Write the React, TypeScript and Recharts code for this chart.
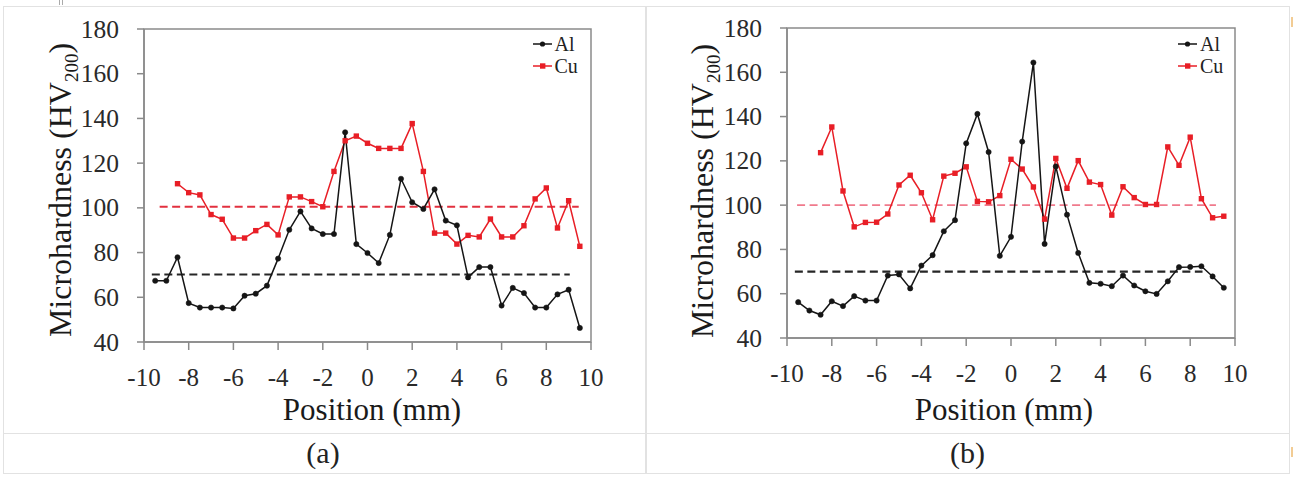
import React from 'react';
import { LineChart, Line, XAxis, YAxis, ReferenceArea } from 'recharts';

const SERIF = '"Liberation Serif", "Times New Roman", serif';
const BLACK = '#151515';
const RED = '#e81e26';
const AXIS = '#8a8a8a';
const RULE = '#e2e2e2';

// measurement positions (mm)
const positionsAl = [
  -9.5, -9, -8.5, -8, -7.5, -7, -6.5, -6, -5.5, -5, -4.5, -4, -3.5, -3, -2.5, -2, -1.5, -1, -0.5,
  0, 0.5, 1, 1.5, 2, 2.5, 3, 3.5, 4, 4.5, 5, 5.5, 6, 6.5, 7, 7.5, 8, 8.5, 9, 9.5,
];
const positionsCu = [
  -8.5, -8, -7.5, -7, -6.5, -6, -5.5, -5, -4.5, -4, -3.5, -3, -2.5, -2, -1.5, -1, -0.5,
  0, 0.5, 1, 1.5, 2, 2.5, 3, 3.5, 4, 4.5, 5, 5.5, 6, 6.5, 7, 7.5, 8, 8.5, 9, 9.5,
];

// (a) hardness profiles, HV200
const hardnessAlA = [
  67.4, 67.4, 77.9, 57.4, 55.4, 55.4, 55.4, 55.0, 60.7, 61.6, 65.2, 77.3, 90.2, 98.4, 90.8, 88.3, 88.3,
  133.8, 83.8, 79.8, 75.3, 87.9, 113.0, 102.5, 99.5, 108.3, 94.3, 92.2, 68.9, 73.5, 73.5, 56.3, 64.2,
  61.9, 55.4, 55.4, 61.3, 63.4, 46.3,
];
const hardnessCuA = [
  110.8, 106.8, 105.8, 97.0, 94.9, 86.5, 86.5, 89.8, 92.6, 87.9, 104.9, 104.9, 102.8, 100.5, 116.3,
  130.0, 132.1, 128.9, 126.6, 126.6, 126.6, 137.7, 116.3, 88.7, 88.7, 83.8, 87.7, 87.0, 95.0, 87.0,
  87.0, 92.0, 104.0, 108.9, 91.0, 103.2, 82.8,
];

// (b) hardness profiles, HV200
const hardnessAlB = [
  56.2, 52.4, 50.5, 56.6, 54.4, 58.9, 56.9, 56.9, 68.2, 68.7, 62.4, 72.7, 77.4, 88.2, 93.2, 127.9,
  141.2, 124.0, 77.1, 85.7, 128.7, 164.4, 82.5, 117.5, 95.7, 78.4, 64.9, 64.5, 63.4, 68.2, 63.7, 61.1,
  59.9, 65.6, 72.0, 72.1, 72.4, 67.8, 62.7,
];
const hardnessCuB = [
  123.7, 135.3, 106.4, 90.2, 92.2, 92.3, 96.0, 109.1, 113.5, 105.6, 93.4, 113.1, 114.4, 117.3, 101.7,
  101.5, 104.3, 120.7, 116.3, 108.2, 93.7, 121.1, 107.6, 120.1, 110.4, 109.3, 95.5, 108.3, 103.4,
  100.3, 100.3, 126.3, 118.0, 130.7, 102.9, 94.3, 95.0,
];

// base-metal hardness levels (dashed), [x, y] end points
const baseAlA = [[-9.65, 70.2], [9.05, 70.2]];
const baseCuA = [[-9.3, 100.5], [9.45, 100.5]];
const baseAlB = [[-9.65, 70], [8.55, 70]];
const baseCuB = [[-9.55, 100], [9.15, 100]];

const xTicks = [-10, -8, -6, -4, -2, 0, 2, 4, 6, 8, 10];
const yTicks = [40, 60, 80, 100, 120, 140, 160, 180];

type Pt = { x: number; y: number };
const toPoints = (xs: number[], ys: number[]): Pt[] => xs.map((x, i) => ({ x, y: ys[i] }));
const fromPairs = (pairs: number[][]): Pt[] => pairs.map(([x, y]) => ({ x, y }));

const serifText: React.CSSProperties = { fontFamily: SERIF };

const XTick = (props: any) => {
  const { x, y, payload } = props;
  return (
    <text x={x} y={y + 17} textAnchor="middle" fontSize={25} fill="#2a2a2a" style={serifText}>
      {payload.value}
    </text>
  );
};

const YTick = (props: any) => {
  const { x, y, payload } = props;
  return (
    <text x={x} y={y + 8.5} textAnchor="end" fontSize={25.5} fill="#2a2a2a" style={serifText}>
      {payload.value}
    </text>
  );
};

const SquareDot = (props: any) => {
  const { cx, cy, index } = props;
  if (cx == null || cy == null) return <g key={`sq-${index}`} />;
  return <rect key={`sq-${index}`} x={cx - 2.7} y={cy - 2.7} width={5.4} height={5.4} fill={RED} />;
};

interface PanelProps {
  left: number;
  width: number;
  yAxisWidth: number;
  margin: { top: number; right: number; bottom: number; left: number };
  al: Pt[];
  cu: Pt[];
  baseAl: Pt[];
  baseCu: Pt[];
  baseCuColor: string;
  baseCuWidth: number;
  yTitleX: number;
  yTitleY: number;
  xTitleX: number;
  legendLeft: number;
  caption: string;
}

const LegendRow: React.FC<{ label: string; color: string; square?: boolean }> = ({ label, color, square }) => (
  <div style={{ display: 'flex', alignItems: 'center', height: 22 }}>
    <svg width={19} height={22}>
      <line x1={0} y1={11} x2={19} y2={11} stroke={color} strokeWidth={1.5} />
      {square ? (
        <rect x={7} y={8.3} width={5.4} height={5.4} fill={color} />
      ) : (
        <circle cx={9.5} cy={11} r={2.6} fill={color} />
      )}
    </svg>
    <span style={{ marginLeft: 3, fontFamily: SERIF, fontSize: 20, lineHeight: '22px', color: '#222' }}>{label}</span>
  </div>
);

const Panel: React.FC<PanelProps> = (p) => {
  return (
    <div style={{ position: 'absolute', left: p.left, top: 0, width: p.width, height: 433 }}>
      <LineChart width={p.width} height={433} margin={p.margin}>
        <ReferenceArea x1={-10} x2={10} y1={40} y2={180} fill="none" stroke={AXIS} strokeWidth={1.5} ifOverflow="visible" />
        <XAxis
          type="number"
          dataKey="x"
          domain={[-10, 10]}
          ticks={xTicks}
          interval={0}
          height={60}
          tickSize={8}
          tickMargin={19}
          axisLine={{ stroke: AXIS, strokeWidth: 1.5 }}
          tickLine={{ stroke: AXIS, strokeWidth: 1.5 }}
          tick={<XTick />}
          label={{
            content: () => (
              <text x={p.xTitleX} y={420} textAnchor="middle" fontSize={31} fill="#1a1a1a" style={serifText}>
                Position (mm)
              </text>
            ),
          }}
        />
        <YAxis
          type="number"
          dataKey="y"
          domain={[40, 180]}
          ticks={yTicks}
          interval={0}
          width={p.yAxisWidth}
          tickSize={7}
          tickMargin={18}
          axisLine={{ stroke: AXIS, strokeWidth: 1.5 }}
          tickLine={{ stroke: AXIS, strokeWidth: 1.5 }}
          tick={<YTick />}
          label={{
            content: () => (
              <text
                x={p.yTitleX}
                y={p.yTitleY}
                transform={`rotate(-90, ${p.yTitleX}, ${p.yTitleY})`}
                textAnchor="middle"
                fontSize={32}
                fill="#1a1a1a"
                style={serifText}
              >
                <tspan>Microhardness (HV</tspan>
                <tspan dy={7} fontSize={19}>200</tspan>
                <tspan dy={-7}>)</tspan>
              </text>
            ),
          }}
        />
        <Line
          data={p.baseCu}
          dataKey="y"
          stroke={p.baseCuColor}
          strokeWidth={p.baseCuWidth}
          strokeDasharray="8 4.5"
          dot={false}
          isAnimationActive={false}
          legendType="none"
        />
        <Line
          data={p.baseAl}
          dataKey="y"
          stroke="#262626"
          strokeWidth={2.2}
          strokeDasharray="8 4.5"
          dot={false}
          isAnimationActive={false}
          legendType="none"
        />
        <Line
          data={p.cu}
          dataKey="y"
          name="Cu"
          stroke={RED}
          strokeWidth={1.5}
          dot={SquareDot}
          isAnimationActive={false}
        />
        <Line
          data={p.al}
          dataKey="y"
          name="Al"
          stroke={BLACK}
          strokeWidth={1.5}
          dot={{ r: 2.6, fill: BLACK, stroke: BLACK, strokeWidth: 0.6 }}
          isAnimationActive={false}
        />
      </LineChart>
      <div style={{ position: 'absolute', left: p.legendLeft, top: 33 }}>
        <LegendRow label="Al" color={BLACK} />
        <LegendRow label="Cu" color={RED} square />
      </div>
      <div
        style={{
          position: 'absolute',
          left: 0,
          top: 433,
          width: p.width,
          height: 40,
          lineHeight: '40px',
          textAlign: 'center',
          fontFamily: SERIF,
          fontSize: 30,
          color: '#222',
        }}
      >
        {p.caption}
      </div>
    </div>
  );
};

const App: React.FC = () => {
  return (
    <div style={{ position: 'absolute', left: 0, top: 0, width: 1301, height: 479, background: '#fff', overflow: 'hidden' }}>
      {/* table frame */}
      <div style={{ position: 'absolute', left: 3, top: 6, width: 1287, height: 468, border: `1.5px solid ${RULE}`, boxSizing: 'border-box' }} />
      <div style={{ position: 'absolute', left: 645, top: 6, width: 1.5, height: 468, background: RULE }} />
      <div style={{ position: 'absolute', left: 3, top: 432.5, width: 1287, height: 1.5, background: RULE }} />
      <div style={{ position: 'absolute', left: 59, top: 0, width: 1, height: 5, background: '#aaa' }} />
      <div style={{ position: 'absolute', left: 62, top: 0, width: 1, height: 5, background: '#aaa' }} />
      <div style={{ position: 'absolute', left: 1291, top: 17, width: 2, height: 10, background: '#f2cc94' }} />
      <div style={{ position: 'absolute', left: 1291, top: 447, width: 2, height: 10, background: '#f2cc94' }} />

      <Panel
        left={0}
        width={646}
        yAxisWidth={144}
        margin={{ top: 29, right: 55, bottom: 31, left: 0 }}
        al={toPoints(positionsAl, hardnessAlA)}
        cu={toPoints(positionsCu, hardnessCuA)}
        baseAl={fromPairs(baseAlA)}
        baseCu={fromPairs(baseCuA)}
        baseCuColor="#e2303f"
        baseCuWidth={2.2}
        yTitleX={71}
        yTitleY={190}
        xTitleX={372}
        legendLeft={532.5}
        caption="(a)"
      />
      <Panel
        left={646}
        width={643}
        yAxisWidth={141}
        margin={{ top: 28, right: 54, bottom: 35, left: 0 }}
        al={toPoints(positionsAl, hardnessAlB)}
        cu={toPoints(positionsCu, hardnessCuB)}
        baseAl={fromPairs(baseAlB)}
        baseCu={fromPairs(baseCuB)}
        baseCuColor="#f07a8c"
        baseCuWidth={1.6}
        yTitleX={67}
        yTitleY={191}
        xTitleX={358}
        legendLeft={532}
        caption="(b)"
      />
    </div>
  );
};

export default App;
